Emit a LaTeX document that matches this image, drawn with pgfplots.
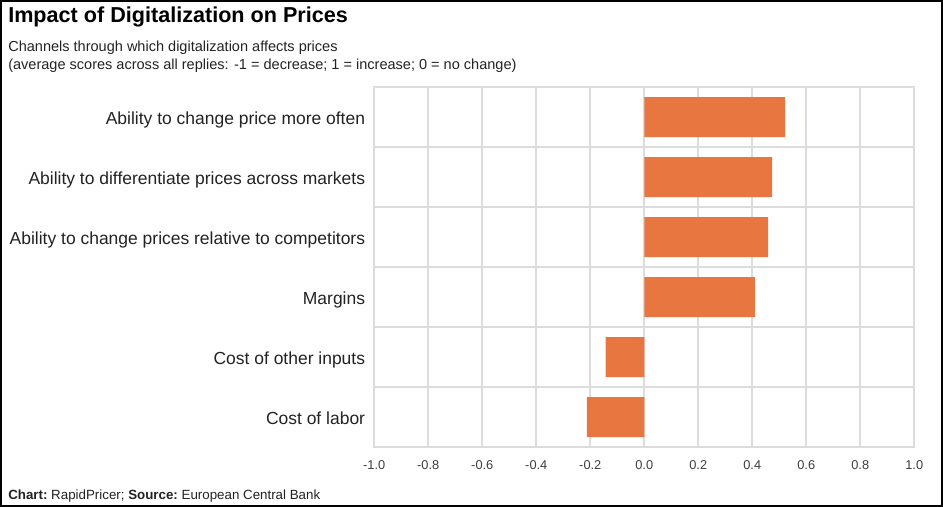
\documentclass[border=0pt]{standalone}
\usepackage{pgfplots}
\pgfplotsset{compat=1.18}
\usepackage{fontspec}
\setmainfont{Liberation Sans}
\definecolor{barc}{RGB}{232,118,64}
\definecolor{gridc}{RGB}{220,220,220}
\definecolor{txt}{RGB}{34,34,34}
\definecolor{ticktxt}{RGB}{60,60,60}
\begin{document}
\begin{tikzpicture}[x=0.75pt,y=0.75pt]
\useasboundingbox (0,0) rectangle (943,507);
\draw[line width=1.5pt,black] (1,1) rectangle (942,506);
\node[anchor=base west,inner sep=0,font=\bfseries\fontsize{16.2}{18}\selectfont] at (8,507-23) {Impact of Digitalization on Prices};
\node[anchor=base west,inner sep=0,font=\fontsize{10.9}{13}\selectfont,text=txt] at (8,507-52) {Channels through which digitalization affects prices};
\node[anchor=base west,inner sep=0,font=\fontsize{10.9}{13}\selectfont,text=txt] at (8,507-70) {(average scores across all replies: -1 = decrease; 1 = increase; 0 = no change)};
\node[anchor=base west,inner sep=0,font=\fontsize{10}{12}\selectfont,text=txt] at (8,507-500) {\textbf{Chart:}~RapidPricer; \textbf{Source:}~European Central Bank};
\begin{axis}[
  at={(280.7pt,45pt)}, anchor=south west,
  scale only axis, width=405pt, height=269.8pt,
  xmin=-1, xmax=1, ymin=-0.5, ymax=5.5,
  xtick={-1,-0.8,...,1.01},
  ytick={0,1,2,3,4,5},
  yticklabels={Cost of labor, Cost of other inputs, Margins, Ability to change prices relative to competitors, Ability to differentiate prices across markets, Ability to change price more often},
  minor ytick={-0.5,0.5,1.5,2.5,3.5,4.5,5.5},
  xmajorgrids, yminorgrids,
  grid style={gridc, line width=1.2pt},
  minor grid style={gridc, line width=1.2pt},
  axis line style={gridc, line width=1.2pt},
  major tick length=0pt, minor tick length=0pt,
  /pgf/number format/assume math mode=true,
  /pgf/number format/.cd, fixed, fixed zerofill, precision=1, /pgfplots/.cd,
  xticklabel style={anchor=base, inner sep=0pt, yshift=-16.5pt, font=\fontsize{9.6}{11}\selectfont, text=ticktxt},
  yticklabel style={anchor=base east, inner sep=0pt, xshift=-6.7pt, yshift=-5.6pt, font=\fontsize{13.1}{15}\selectfont, text=txt},
  xbar, bar width=30pt,
]
\addplot[fill=barc, draw=none] coordinates {
  (-0.213,0) (-0.143,1) (0.410,2) (0.459,3) (0.474,4) (0.522,5)
};
\end{axis}
\end{tikzpicture}
\end{document}
